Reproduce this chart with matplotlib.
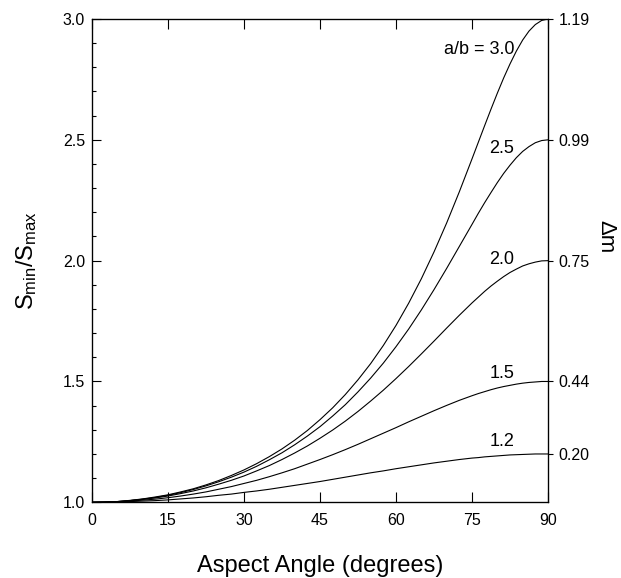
import matplotlib
matplotlib.use("Agg")
import matplotlib.pyplot as plt

plt.rcParams['font.family'] = ['Liberation Sans', 'DejaVu Sans']

# aspect angle samples (degrees), finer near the turnover at 90
angles = [0, 2.5, 5, 7.5, 10, 12.5, 15, 17.5, 20, 22.5, 25, 27.5, 30, 32.5, 35,
          37.5, 40, 42.5, 45, 47.5, 50, 52.5, 55, 57.5, 60, 62.5, 65, 67.5, 70,
          72.5, 75, 76.25, 77.5, 78.75, 80, 81.25, 82.5, 83.75, 85, 86.25,
          87.5, 88.75, 90]

# amplitude ratio for each axis ratio a/b
ratio_30 = [1.000, 1.001, 1.003, 1.008, 1.014, 1.022, 1.031, 1.043, 1.056, 1.072,
            1.090, 1.111, 1.134, 1.160, 1.189, 1.221, 1.257, 1.297, 1.342, 1.391,
            1.446, 1.507, 1.574, 1.649, 1.732, 1.824, 1.925, 2.036, 2.156, 2.285,
            2.421, 2.490, 2.559, 2.627, 2.693, 2.756, 2.814, 2.867, 2.913, 2.950,
            2.977, 2.994, 3.000]
ratio_25 = [1.000, 1.001, 1.003, 1.007, 1.013, 1.020, 1.029, 1.040, 1.053, 1.068,
            1.085, 1.104, 1.125, 1.149, 1.176, 1.205, 1.238, 1.274, 1.313, 1.357,
            1.404, 1.457, 1.514, 1.576, 1.644, 1.717, 1.796, 1.880, 1.968, 2.059,
            2.150, 2.196, 2.240, 2.282, 2.323, 2.361, 2.395, 2.426, 2.452, 2.472,
            2.488, 2.497, 2.500]
ratio_20 = [1.000, 1.001, 1.003, 1.007, 1.012, 1.018, 1.026, 1.036, 1.047, 1.060,
            1.075, 1.091, 1.109, 1.130, 1.152, 1.177, 1.204, 1.233, 1.265, 1.299,
            1.336, 1.376, 1.419, 1.464, 1.512, 1.562, 1.614, 1.667, 1.721, 1.774,
            1.825, 1.849, 1.873, 1.895, 1.915, 1.934, 1.951, 1.965, 1.978, 1.987,
            1.994, 1.999, 2.000]
ratio_15 = [1.000, 1.001, 1.002, 1.005, 1.009, 1.013, 1.019, 1.026, 1.034, 1.043,
            1.054, 1.065, 1.078, 1.091, 1.106, 1.122, 1.139, 1.158, 1.177, 1.197,
            1.218, 1.240, 1.263, 1.286, 1.309, 1.333, 1.356, 1.379, 1.401, 1.422,
            1.441, 1.450, 1.458, 1.466, 1.473, 1.479, 1.484, 1.489, 1.493, 1.496,
            1.498, 1.500, 1.500]
ratio_12 = [1.000, 1.000, 1.001, 1.003, 1.005, 1.007, 1.010, 1.014, 1.018, 1.023,
            1.029, 1.034, 1.041, 1.047, 1.054, 1.062, 1.070, 1.078, 1.086, 1.095,
            1.104, 1.113, 1.122, 1.130, 1.139, 1.147, 1.155, 1.163, 1.170, 1.177,
            1.183, 1.185, 1.188, 1.190, 1.192, 1.194, 1.196, 1.197, 1.198, 1.199,
            1.200, 1.200, 1.200]

curves = [ratio_30, ratio_25, ratio_20, ratio_15, ratio_12]
curve_labels = ['a/b = 3.0', '2.5', '2.0', '1.5', '1.2']
label_y = [2.875, 2.465, 2.006, 1.534, 1.251]

# right hand axis: magnitude amplitude at each a/b
dm_ticks = [1.2, 1.5, 2.0, 2.5, 3.0]
dm_labels = ['0.20', '0.44', '0.75', '0.99', '1.19']

x_ticks = [0, 15, 30, 45, 60, 75, 90]

fig = plt.figure(figsize=(6.21, 5.78), dpi=100)
ax = fig.add_axes([92 / 621, 1 - 502.3 / 578, 456 / 621, 483.3 / 578])

for ys in curves:
    ax.plot(angles, ys, color='black', lw=0.8)

for txt, ly in zip(curve_labels, label_y):
    ax.text(83.3, ly, txt, ha='right', va='center', fontsize=13)

ax.set_xlim(0, 90)
ax.set_ylim(1.0, 3.0)
ax.set_xticks(x_ticks)
ax.set_yticks([1.0, 1.5, 2.0, 2.5, 3.0])
ax.set_yticks([1.1 + 0.1 * i for i in range(20) if (i + 1) % 5 != 0], minor=True)
ax.yaxis.set_major_formatter(matplotlib.ticker.FormatStrFormatter('%.1f'))
ax.tick_params(axis='x', direction='in', length=7, width=0.8, top=True,
               labelsize=11.5, pad=7.5)
ax.tick_params(axis='y', which='major', direction='in', length=6.5, width=0.8,
               labelsize=11.5, pad=5)
ax.tick_params(axis='y', which='minor', direction='in', length=3, width=0.8)
for s in ax.spines.values():
    s.set_linewidth(0.9)

ax.set_xlabel('Aspect Angle (degrees)', fontsize=17, labelpad=20)
ax.set_ylabel(r'$\mathregular{S_{min}/S_{max}}$', fontsize=17, labelpad=17)

ax2 = ax.twinx()
ax2.set_ylim(1.0, 3.0)
ax2.set_yticks(dm_ticks)
ax2.set_yticklabels(dm_labels)
ax2.tick_params(axis='y', direction='out', length=3.5, width=0.8,
                labelsize=11.5, pad=4)
ax2.yaxis.set_minor_locator(matplotlib.ticker.NullLocator())
ax2.set_ylabel('Δm', fontsize=16, rotation=270, labelpad=20)
ax2.yaxis.set_label_coords(1.15, 0.55)

fig.savefig('out.png', dpi=100)
